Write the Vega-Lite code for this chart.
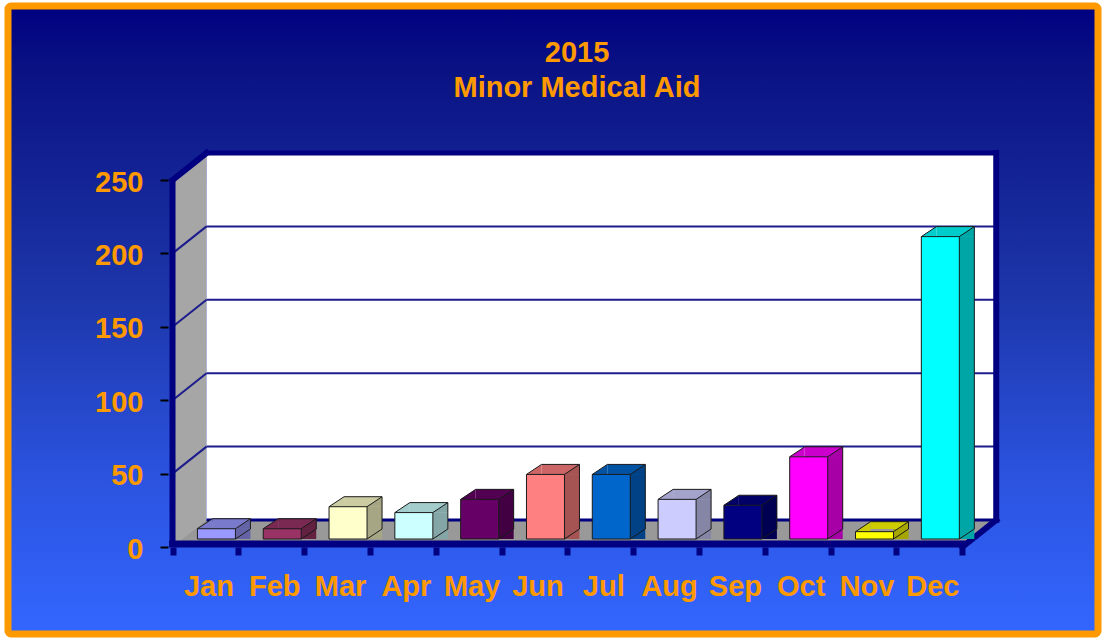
{
  "$schema": "https://vega.github.io/schema/vega-lite/v6.json",
  "width": 1102,
  "height": 638,
  "autosize": {"type": "fit", "contains": "padding"},
  "padding": {"left": 8, "top": 6, "right": 4, "bottom": 4},
  "background": "#ffffff",
  "title": {
    "text": ["2015", "Minor Medical Aid"],
    "font": "Liberation Sans",
    "fontSize": 29,
    "fontWeight": "bold",
    "color": "#ff9900",
    "anchor": "middle",
    "offset": -120,
    "dx": 24,
    "lineHeight": 35,
    "baseline": "alphabetic"
  },
  "datasets": {
    "bars": [
      {"month": "Jan", "i": 1, "value": 7},
      {"month": "Feb", "i": 2, "value": 7},
      {"month": "Mar", "i": 3, "value": 22},
      {"month": "Apr", "i": 4, "value": 18},
      {"month": "May", "i": 5, "value": 27},
      {"month": "Jun", "i": 6, "value": 44},
      {"month": "Jul", "i": 7, "value": 44},
      {"month": "Aug", "i": 8, "value": 27},
      {"month": "Sep", "i": 9, "value": 23},
      {"month": "Oct", "i": 10, "value": 56},
      {"month": "Nov", "i": 11, "value": 5},
      {"month": "Dec", "i": 12, "value": 206}
    ],
    "grid": [{"v": 50}, {"v": 100}, {"v": 150}, {"v": 200}]
  },
  "resolve": {"axis": {"x": "independent", "y": "independent"}, "scale": {"fill": "independent"}},
  "layer": [
    {
      "data": {"values": [{}]},
      "mark": {
        "type": "rect",
        "x2Offset": 34,
        "y2Offset": -27,
        "fill": {
          "gradient": "linear", "x1": 0, "y1": 0, "x2": 1, "y2": 0.0409,
          "stops": [
            {"offset": 0, "color": "rgba(153,153,153,0)"},
            {"offset": 0.0408, "color": "rgba(153,153,153,0)"},
            {"offset": 0.0409, "color": "#999999"},
            {"offset": 0.9982, "color": "#999999"},
            {"offset": 0.9983, "color": "rgba(153,153,153,0)"},
            {"offset": 1, "color": "rgba(153,153,153,0)"}
          ]
        }
      },
      "encoding": {
        "x": {
          "datum": 0.5, "type": "quantitative",
          "scale": {"type": "linear", "domain": [-1.924, 14.487], "nice": false, "zero": false},
          "axis": {
            "orient": "bottom",
            "values": [1, 2, 3, 4, 5, 6, 7, 8, 9, 10, 11, 12],
            "labelExpr": "['','Jan','Feb','Mar','Apr','May','Jun','Jul','Aug','Sep','Oct','Nov','Dec'][datum.value]",
            "ticks": false, "tickSize": 0, "domain": false, "grid": false,
            "offset": -87, "labelPadding": 39, "labelBaseline": "middle",
            "labelFont": "Liberation Sans", "labelFontSize": 29, "labelFontWeight": "bold",
            "labelColor": "#ff9900", "labelOffset": 3, "title": null,
            "labelFlush": false, "labelOverlap": false
          }
        },
        "x2": {"datum": 12.5},
        "y": {
          "datum": 0, "type": "quantitative",
          "scale": {"type": "linear", "domain": [-59.26, 368.53], "nice": false, "zero": false},
          "axis": null
        },
        "y2": {"datum": 0}
      }
    },
    {
      "data": {"values": [{}]},
      "mark": {
        "type": "rect",
        "x2Offset": 34,
        "y2Offset": -27,
        "fill": {
          "gradient": "linear", "x1": 0, "y1": 0, "x2": 0.0685, "y2": 1,
          "stops": [
            {"offset": 0, "color": "rgba(166,166,166,0)"},
            {"offset": 0.0681, "color": "rgba(166,166,166,0)"},
            {"offset": 0.0682, "color": "#a6a6a6"},
            {"offset": 0.9952, "color": "#a6a6a6"},
            {"offset": 0.9953, "color": "rgba(166,166,166,0)"},
            {"offset": 1, "color": "rgba(166,166,166,0)"}
          ]
        }
      },
      "encoding": {
        "x": {"datum": 0.5, "type": "quantitative", "axis": null},
        "x2": {"datum": 0.5},
        "y": {
          "datum": 0, "type": "quantitative",
          "axis": {
            "orient": "left",
            "values": [0, 50, 100, 150, 200, 250],
            "offset": -160, "tickSize": 8, "tickWidth": 2, "tickColor": "#000000",
            "domain": false, "grid": false, "labelPadding": 17,
            "labelFont": "Liberation Sans", "labelFontSize": 29, "labelFontWeight": "bold",
            "labelColor": "#ff9900", "labelOffset": 2, "title": null,
            "labelFlush": false, "labelOverlap": false
          }
        },
        "y2": {"datum": 250}
      }
    },
    {
      "data": {"values": [{}]},
      "mark": {"type": "rect", "fill": "#ffffff", "xOffset": 34, "x2Offset": 34, "yOffset": -27, "y2Offset": -27},
      "encoding": {
        "x": {"datum": 0.5, "type": "quantitative", "axis": null},
        "x2": {"datum": 12.5},
        "y": {"datum": 0, "type": "quantitative", "axis": null},
        "y2": {"datum": 250}
      }
    },
    {
      "data": {"name": "grid"},
      "mark": {"type": "rule", "color": "#1c1c8c", "strokeWidth": 2, "xOffset": 34, "x2Offset": 34, "yOffset": -27},
      "encoding": {
        "x": {"datum": 0.5, "type": "quantitative", "axis": null},
        "x2": {"datum": 12.5},
        "y": {"field": "v", "type": "quantitative", "axis": null}
      }
    },
    {
      "data": {"name": "grid"},
      "mark": {"type": "rule", "color": "#1c1c8c", "strokeWidth": 2, "x2Offset": 34, "y2Offset": -27},
      "encoding": {
        "x": {"datum": 0.5, "type": "quantitative", "axis": null},
        "x2": {"datum": 0.5},
        "y": {"field": "v", "type": "quantitative", "axis": null},
        "y2": {"field": "v"}
      }
    },
    {
      "data": {"values": [{}]},
      "mark": {"type": "rule", "color": "#000080", "strokeWidth": 3, "xOffset": 34, "x2Offset": 34, "yOffset": -27},
      "encoding": {
        "x": {"datum": 0.5, "type": "quantitative", "axis": null},
        "x2": {"datum": 12.5},
        "y": {"datum": 0, "type": "quantitative", "axis": null}
      }
    },
    {
      "data": {"values": [{}]},
      "mark": {"type": "rule", "color": "#000080", "strokeWidth": 6},
      "encoding": {
        "x": {"datum": 0.5, "type": "quantitative", "axis": null},
        "y": {"datum": 0, "type": "quantitative", "axis": null},
        "y2": {"datum": 250}
      }
    },
    {
      "data": {"values": [{}]},
      "mark": {"type": "rule", "color": "#000080", "strokeWidth": 6, "strokeCap": "square", "x2Offset": 34, "y2Offset": -27},
      "encoding": {
        "x": {"datum": 0.5, "type": "quantitative", "axis": null},
        "x2": {"datum": 0.5},
        "y": {"datum": 250, "type": "quantitative", "axis": null},
        "y2": {"datum": 250}
      }
    },
    {
      "data": {"values": [{}]},
      "mark": {"type": "rule", "color": "#000080", "strokeWidth": 5, "strokeCap": "square", "xOffset": 34, "x2Offset": 34, "yOffset": -27},
      "encoding": {
        "x": {"datum": 0.5, "type": "quantitative", "axis": null},
        "x2": {"datum": 12.5},
        "y": {"datum": 250, "type": "quantitative", "axis": null}
      }
    },
    {
      "data": {"values": [{}]},
      "mark": {"type": "rule", "color": "#000080", "strokeWidth": 6, "strokeCap": "square", "xOffset": 34, "yOffset": -27, "y2Offset": -27},
      "encoding": {
        "x": {"datum": 12.5, "type": "quantitative", "axis": null},
        "y": {"datum": 0, "type": "quantitative", "axis": null},
        "y2": {"datum": 250}
      }
    },
    {
      "data": {"values": [{}]},
      "mark": {"type": "rule", "color": "#000080", "strokeWidth": 6, "strokeCap": "square", "x2Offset": 34, "y2Offset": -27},
      "encoding": {
        "x": {"datum": 12.5, "type": "quantitative", "axis": null},
        "x2": {"datum": 12.5},
        "y": {"datum": 0, "type": "quantitative", "axis": null},
        "y2": {"datum": 0}
      }
    },
    {
      "data": {"values": [{}]},
      "mark": {"type": "rule", "color": "#000080", "strokeWidth": 7, "strokeCap": "square", "yOffset": -3},
      "encoding": {
        "x": {
          "datum": 0.5, "type": "quantitative",
          "axis": {
            "orient": "bottom",
            "values": [0.5, 1.5, 2.5, 3.5, 4.5, 5.5, 6.5, 7.5, 8.5, 9.5, 10.5, 11.5, 12.5],
            "labels": false, "tickSize": 8, "tickWidth": 6, "tickColor": "#000080",
            "domain": false, "grid": false, "offset": -87, "title": null
          }
        },
        "x2": {"datum": 12.5},
        "y": {"datum": 0, "type": "quantitative", "axis": null}
      }
    },
    {
      "data": {"name": "bars"},
      "mark": {"type": "bar", "orient": "vertical", "size": 38, "xOffset": 26, "yOffset": -18, "y2Offset": -18, "strokeWidth": 0},
      "encoding": {
        "x": {"field": "i", "type": "quantitative", "axis": null},
        "y": {"field": "value", "type": "quantitative", "axis": null},
        "fill": {
          "field": "month", "type": "nominal", "legend": null,
          "scale": {
            "domain": ["Jan", "Feb", "Mar", "Apr", "May", "Jun", "Jul", "Aug", "Sep", "Oct", "Nov", "Dec"],
            "range": ["#7a7acc", "#7a2952", "#cccca3", "#a3cccc", "#520052", "#cc6666", "#0052a3", "#a3a3cc", "#000066", "#cc00cc", "#cccc00", "#00cccc"]
          }
        }
      }
    },
    {
      "data": {"name": "bars"},
      "mark": {"type": "point", "shape": "M0,0L1,-0.6667L1,0Z", "size": 900, "filled": true, "opacity": 1, "strokeWidth": 0, "xOffset": -8, "yOffset": -8},
      "encoding": {
        "x": {"field": "i", "type": "quantitative", "axis": null},
        "y": {"field": "value", "type": "quantitative", "axis": null},
        "fill": {
          "field": "month", "type": "nominal", "legend": null,
          "scale": {
            "domain": ["Jan", "Feb", "Mar", "Apr", "May", "Jun", "Jul", "Aug", "Sep", "Oct", "Nov", "Dec"],
            "range": ["#7a7acc", "#7a2952", "#cccca3", "#a3cccc", "#520052", "#cc6666", "#0052a3", "#a3a3cc", "#000066", "#cc00cc", "#cccc00", "#00cccc"]
          }
        }
      }
    },
    {
      "data": {"name": "bars"},
      "mark": {"type": "bar", "orient": "vertical", "size": 15, "xOffset": 37.5, "yOffset": -8, "y2Offset": -18, "strokeWidth": 0},
      "encoding": {
        "x": {"field": "i", "type": "quantitative", "axis": null},
        "y": {"field": "value", "type": "quantitative", "axis": null},
        "fill": {
          "field": "month", "type": "nominal", "legend": null,
          "scale": {
            "domain": ["Jan", "Feb", "Mar", "Apr", "May", "Jun", "Jul", "Aug", "Sep", "Oct", "Nov", "Dec"],
            "range": ["#6363a6", "#632142", "#a6a685", "#85a6a6", "#420042", "#a65353", "#004285", "#8585a6", "#000053", "#a600a6", "#a6a600", "#00a6a6"]
          }
        }
      }
    },
    {
      "data": {"name": "bars"},
      "mark": {"type": "point", "shape": "M0,0L1,-0.6667L1,0Z", "size": 900, "filled": true, "opacity": 1, "strokeWidth": 0, "xOffset": 30, "yOffset": -8},
      "encoding": {
        "x": {"field": "i", "type": "quantitative", "axis": null},
        "y": {"field": "value", "type": "quantitative", "axis": null},
        "fill": {
          "field": "month", "type": "nominal", "legend": null,
          "scale": {
            "domain": ["Jan", "Feb", "Mar", "Apr", "May", "Jun", "Jul", "Aug", "Sep", "Oct", "Nov", "Dec"],
            "range": ["#6363a6", "#632142", "#a6a685", "#85a6a6", "#420042", "#a65353", "#004285", "#8585a6", "#000053", "#a600a6", "#a6a600", "#00a6a6"]
          }
        }
      }
    },
    {
      "data": {"name": "bars"},
      "mark": {"type": "point", "shape": "M0,0L0,0.6667L1,0Z", "size": 900, "filled": true, "opacity": 1, "strokeWidth": 0, "xOffset": 30, "yOffset": -18},
      "encoding": {
        "x": {"field": "i", "type": "quantitative", "axis": null},
        "y": {"datum": 0, "type": "quantitative", "axis": null},
        "fill": {
          "field": "month", "type": "nominal", "legend": null,
          "scale": {
            "domain": ["Jan", "Feb", "Mar", "Apr", "May", "Jun", "Jul", "Aug", "Sep", "Oct", "Nov", "Dec"],
            "range": ["#6363a6", "#632142", "#a6a685", "#85a6a6", "#420042", "#a65353", "#004285", "#8585a6", "#000053", "#a600a6", "#a6a600", "#00a6a6"]
          }
        }
      }
    },
    {
      "data": {"name": "bars"},
      "mark": {"type": "bar", "orient": "vertical", "size": 38, "xOffset": 11, "yOffset": -8, "y2Offset": -8, "stroke": "#1a1a1a", "strokeWidth": 1},
      "encoding": {
        "x": {"field": "i", "type": "quantitative", "axis": null},
        "y": {"field": "value", "type": "quantitative", "axis": null},
        "fill": {
          "field": "month", "type": "nominal", "legend": null,
          "scale": {
            "domain": ["Jan", "Feb", "Mar", "Apr", "May", "Jun", "Jul", "Aug", "Sep", "Oct", "Nov", "Dec"],
            "range": ["#9999ff", "#993366", "#ffffcc", "#ccffff", "#660066", "#ff8080", "#0066cc", "#ccccff", "#000080", "#ff00ff", "#ffff00", "#00ffff"]
          }
        }
      }
    },
    {
      "data": {"name": "bars"},
      "mark": {"type": "rule", "color": "#1a1a1a", "strokeWidth": 1, "xOffset": -8, "x2Offset": 7, "yOffset": -8, "y2Offset": -18},
      "encoding": {
        "x": {"field": "i", "type": "quantitative", "axis": null},
        "x2": {"field": "i"},
        "y": {"field": "value", "type": "quantitative", "axis": null},
        "y2": {"field": "value"}
      }
    },
    {
      "data": {"name": "bars"},
      "mark": {"type": "rule", "color": "#1a1a1a", "strokeWidth": 1, "xOffset": 7, "x2Offset": 45, "yOffset": -18, "y2Offset": -18},
      "encoding": {
        "x": {"field": "i", "type": "quantitative", "axis": null},
        "x2": {"field": "i"},
        "y": {"field": "value", "type": "quantitative", "axis": null},
        "y2": {"field": "value"}
      }
    },
    {
      "data": {"name": "bars"},
      "mark": {"type": "rule", "color": "#1a1a1a", "strokeWidth": 1, "xOffset": 30, "x2Offset": 45, "yOffset": -8, "y2Offset": -18},
      "encoding": {
        "x": {"field": "i", "type": "quantitative", "axis": null},
        "x2": {"field": "i"},
        "y": {"field": "value", "type": "quantitative", "axis": null},
        "y2": {"field": "value"}
      }
    },
    {
      "data": {"name": "bars"},
      "mark": {"type": "rule", "color": "#1a1a1a", "strokeWidth": 1, "xOffset": 45, "x2Offset": 45, "yOffset": -18, "y2Offset": -18},
      "encoding": {
        "x": {"field": "i", "type": "quantitative", "axis": null},
        "x2": {"field": "i"},
        "y": {"field": "value", "type": "quantitative", "axis": null},
        "y2": {"datum": 0}
      }
    },
    {
      "data": {"name": "bars"},
      "mark": {"type": "rule", "color": "#1a1a1a", "strokeWidth": 1, "xOffset": 30, "x2Offset": 45, "yOffset": -8, "y2Offset": -18},
      "encoding": {
        "x": {"field": "i", "type": "quantitative", "axis": null},
        "x2": {"field": "i"},
        "y": {"datum": 0, "type": "quantitative", "axis": null},
        "y2": {"datum": 0}
      }
    }
  ],
  "config": {
    "view": {
      "fill": {
        "gradient": "linear", "x1": 0, "y1": 0, "x2": 0, "y2": 1,
        "stops": [
          {"offset": 0, "color": "#000080"},
          {"offset": 0.1, "color": "#0a1283"},
          {"offset": 0.45, "color": "#1c35a8"},
          {"offset": 0.75, "color": "#2b53df"},
          {"offset": 1, "color": "#3366ff"}
        ]
      },
      "stroke": "#ff9900",
      "strokeWidth": 7,
      "cornerRadius": 3
    }
  }
}
